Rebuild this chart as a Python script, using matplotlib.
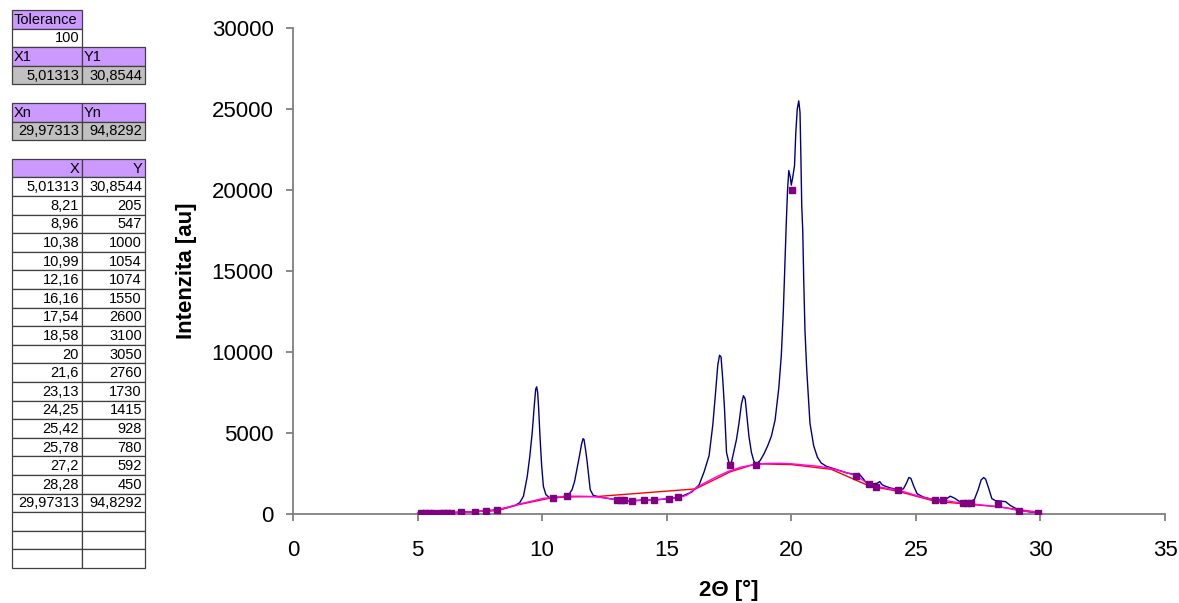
import matplotlib
matplotlib.use('Agg')
import matplotlib.pyplot as plt
from matplotlib.patches import Rectangle

plt.rcParams['font.family'] = ['Liberation Sans', 'DejaVu Sans']

# Background anchor points (table on the left, red polyline)
bg_x = [5.01313, 8.21, 8.96, 10.38, 10.99, 12.16, 16.16, 17.54, 18.58, 20,
        21.6, 23.13, 24.25, 25.42, 25.78, 27.2, 28.28, 29.97313]
bg_y = [30.8544, 205, 547, 1000, 1054, 1074, 1550, 2600, 3100, 3050,
        2760, 1730, 1415, 928, 780, 592, 450, 94.8292]

tolerance = 100
first_pt = (5.01313, 30.8544)
last_pt = (29.97313, 94.8292)

pat_x = [5.0, 5.5, 6.0, 6.5, 7.0, 7.5, 8.0, 8.5, 8.9, 9.1, 9.25, 9.4, 9.5, 9.6,
         9.68, 9.74, 9.78, 9.82, 9.86, 9.92, 9.98, 10.05, 10.15, 10.3, 10.5, 10.8,
         11.05, 11.2, 11.3, 11.4, 11.5, 11.58, 11.64, 11.68, 11.74, 11.8, 11.87,
         11.93, 12.05, 12.3, 12.7, 13.0, 13.5, 14.0, 14.5, 15.0, 15.5, 16.0, 16.3,
         16.5, 16.7, 16.85, 16.95, 17.05, 17.12, 17.18, 17.25, 17.32, 17.4, 17.5,
         17.6, 17.7, 17.8, 17.9, 18.0, 18.08, 18.15, 18.22, 18.3, 18.4, 18.5, 18.6,
         18.75, 18.9, 19.05, 19.2, 19.35, 19.5, 19.6, 19.68, 19.75, 19.8, 19.85,
         19.9, 19.96, 20.0, 20.06, 20.13, 20.18, 20.24, 20.3, 20.35, 20.38, 20.42,
         20.46, 20.5, 20.55, 20.62, 20.75, 20.9, 21.05, 21.2, 21.4, 21.8, 22.2,
         22.5, 22.7, 22.85, 23.0, 23.2, 23.45, 23.55, 23.65, 23.8, 24.0, 24.3,
         24.5, 24.62, 24.72, 24.8, 24.92, 25.05, 25.3, 25.6, 25.9, 26.2, 26.38,
         26.55, 26.8, 27.1, 27.35, 27.5, 27.62, 27.72, 27.8, 27.92, 28.05, 28.2,
         28.4, 28.6, 28.8, 29.0, 29.3, 29.6, 29.97]
pat_y = [40, 50, 60, 80, 110, 160, 230, 360, 520, 700, 1100, 2300, 3500, 5000,
         6600, 7700, 7850, 7500, 6500, 4600, 3000, 1700, 1200, 1000, 1000, 1050,
         1150, 1500, 2000, 2800, 3600, 4300, 4650, 4600, 4000, 3300, 2300,
         1500, 1150, 1050, 950, 870, 800, 860, 870, 930, 1030, 1350, 1800,
         2600, 3600, 5500, 7300, 9200, 9800, 9700, 8300, 6500, 3800, 3150,
         3200, 3900, 4600, 5600, 6800, 7300, 7100, 6000, 4800, 3800, 3250, 3100,
         3300, 3700, 4200, 4800, 5800, 7800, 9800, 12500, 15700, 18000, 20000,
         21200, 20800, 20300, 20800, 21500, 23500, 25000, 25500, 24800, 22500, 19000,
         17500, 14400, 11300, 8900, 5600, 4200, 3500, 3150, 2950, 2750, 2550,
         2450, 2500, 2250, 1950, 1850, 1900, 2000, 1800, 1700, 1600, 1500,
         1550, 1900, 2250, 2200, 1700, 1250, 1050, 930, 880, 900, 1100,
         980, 720, 700, 900, 1500, 2100, 2250, 2150, 1600, 950, 820,
         800, 760, 520, 350, 200, 120, 95]

# Smooth fitted background (magenta)
fit_x = [5.0, 5.5, 6.0, 7.0, 8.0, 8.3, 8.7, 9.1, 9.6, 10.05, 10.5, 11.0, 11.5,
         12.0, 12.5, 13.0, 13.5, 14.0, 14.5, 15.0, 15.5, 15.8, 16.2, 16.5, 17.0,
         17.5, 18.0, 18.5, 19.0, 19.5, 20.0, 20.5, 21.0, 21.5, 22.0, 22.6, 23.1,
         23.4, 24.0, 24.3, 25.0, 25.5, 25.8, 26.1, 26.5, 27.0, 27.5, 28.0, 28.3,
         28.7, 29.15, 29.5, 29.97]
fit_y = [30, 40, 50, 110, 220, 300, 450, 620, 800, 970, 1030, 1100, 1100,
         1080, 1000, 880, 800, 850, 870, 930, 1020, 1150, 1650, 1900, 2300,
         2650, 2900, 3050, 3120, 3130, 3100, 3030, 2960, 2850, 2650, 2370, 1850,
         1700, 1550, 1480, 1150, 950, 860, 850, 750, 650, 580, 500, 450,
         350, 200, 150, 90]

# Anchor markers on the background
mark_x = [5.15, 5.3, 5.45, 5.6, 5.9, 6.05, 6.2, 6.35, 6.75, 7.3, 7.75, 8.2,
          10.45, 11.0, 13.0, 13.15, 13.3, 13.6, 14.1, 14.5, 15.1, 15.45, 17.54,
          18.6, 20.02, 22.6, 23.12, 23.39, 24.3, 25.77, 26.08, 26.9, 27.05, 27.2,
          28.29, 29.15, 29.9]
mark_y = [50, 50, 50, 50, 60, 60, 60, 70, 110, 140, 200, 260,
          1000, 1100, 860, 860, 860, 780, 860, 860, 940, 1020, 3000,
          3050, 20000, 2370, 1830, 1690, 1480, 860, 860, 650, 650, 650,
          620, 200, 80]

W, H = 1179, 603
fig = plt.figure(figsize=(W / 100, H / 100), dpi=100)
fig.patch.set_facecolor('white')

# chart area
ax = fig.add_axes([293 / W, (H - 514) / H, 872 / W, 486 / H])
ax.plot(pat_x, pat_y, color='#000080', lw=1.0, zorder=2)
ax.plot(bg_x, bg_y, color='#FF0000', lw=1.0, zorder=3)
ax.plot(fit_x, fit_y, color='#FF00FF', lw=1.0, zorder=4)
ax.plot(mark_x, mark_y, 's', color='#800080', ms=5, ls='none', zorder=5)

ax.set_xlim(0, 35)
ax.set_ylim(0, 30000)
ax.set_xticks(range(0, 36, 5))
ax.set_yticks(range(0, 30001, 5000))
for s in ['top', 'right']:
    ax.spines[s].set_visible(False)
for s in ['left', 'bottom']:
    ax.spines[s].set_color('#808080')
    ax.spines[s].set_linewidth(1.3)
ax.tick_params(axis='both', direction='out', length=5, width=1.3, color='#808080',
               labelsize=16, labelcolor='black')
ax.tick_params(axis='x', pad=14)
ax.tick_params(axis='y', pad=9)
ax.set_xlabel('2Θ [°]', fontsize=16, fontweight='bold')
ax.set_ylabel('Intenzita [au]', fontsize=16, fontweight='bold')
ax.xaxis.set_label_coords(0.5, -0.136)
ax.yaxis.set_label_coords(-0.110, 0.5)

# spreadsheet cells on the left, in pixel coordinates
tab = fig.add_axes([0, 0, 1, 1])
tab.set_xlim(0, W)
tab.set_ylim(H, 0)
tab.axis('off')

top, rh = 10, 18.6
colA, colB, colR = 12, 82, 145
purple, grey = '#CC99FF', '#C0C0C0'


def fmt(v):
    s = str(v)
    if s.endswith('.0'):
        s = s[:-2]
    return s.replace('.', ',')


def cell(row, col, text='', fill='white', align='right'):
    x0 = colA if col == 0 else colB
    x1 = colB if col == 0 else colR
    y0 = top + row * rh
    tab.add_patch(Rectangle((x0, y0), x1 - x0, rh, facecolor=fill,
                            edgecolor='#404040', lw=0.9))
    if align == 'right':
        tab.text(x1 - 3, y0 + rh / 2 + 0.5, text, ha='right', va='center', fontsize=10.5)
    else:
        tab.text(x0 + 2, y0 + rh / 2 + 0.5, text, ha='left', va='center', fontsize=10.5)


cell(0, 0, 'Tolerance', purple, 'left')
cell(1, 0, fmt(tolerance))
cell(2, 0, 'X1', purple, 'left')
cell(2, 1, 'Y1', purple, 'left')
cell(3, 0, fmt(first_pt[0]), grey)
cell(3, 1, fmt(first_pt[1]), grey)
cell(5, 0, 'Xn', purple, 'left')
cell(5, 1, 'Yn', purple, 'left')
cell(6, 0, fmt(last_pt[0]), grey)
cell(6, 1, fmt(last_pt[1]), grey)
cell(8, 0, 'X', purple)
cell(8, 1, 'Y', purple)
for i, (xv, yv) in enumerate(zip(bg_x, bg_y)):
    cell(9 + i, 0, fmt(xv))
    cell(9 + i, 1, fmt(yv))
for r in range(9 + len(bg_x), 9 + len(bg_x) + 3):
    cell(r, 0)
    cell(r, 1)

fig.savefig('out.png', dpi=100)
